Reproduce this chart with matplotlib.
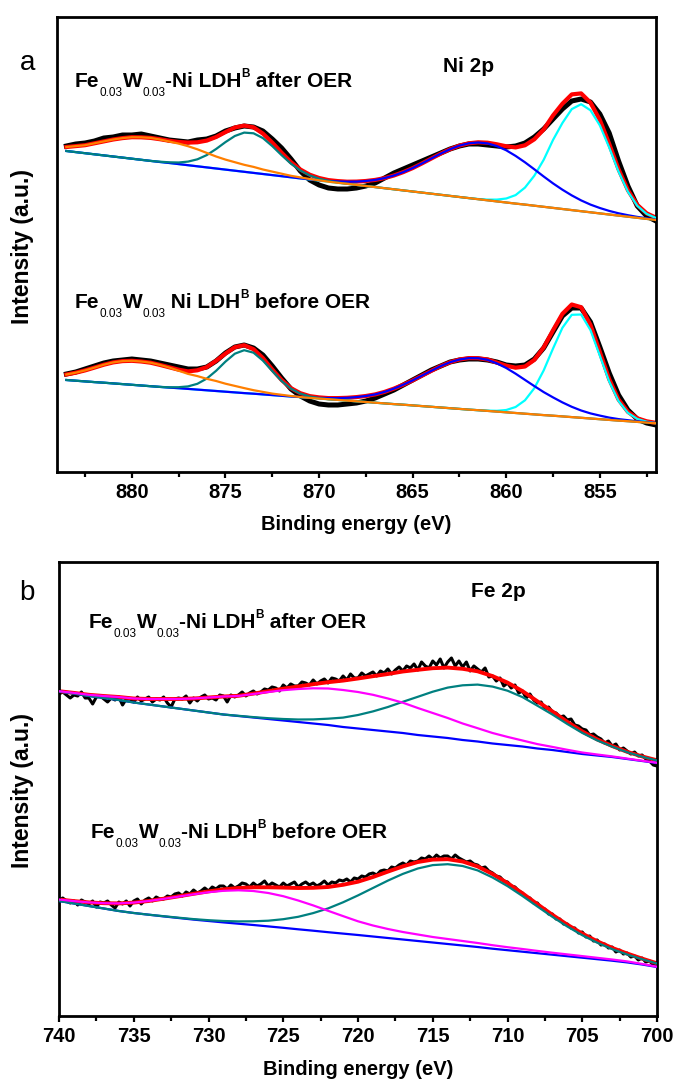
import numpy as np
import matplotlib
matplotlib.use("Agg")
import matplotlib.pyplot as plt
from matplotlib.ticker import MultipleLocator

plt.rcParams.update({
    "font.family": ["Liberation Sans", "DejaVu Sans"],
    "font.weight": "bold",
})

# ---------------- Ni 2p (binding energy 883.5 -> 852.0, 0.5 eV) ----------------
NI_E = np.arange(883.5, 851.75, -0.5)

NI_AFTER_BG = [320.0, 318.9, 317.8, 316.7, 315.6, 314.5, 313.4, 312.3, 311.2, 310.1,
               309.0, 308.0, 306.9, 305.8, 304.7, 303.6, 302.5, 301.4, 300.3, 299.2,
               298.1, 297.0, 295.9, 294.8, 293.7, 292.6, 291.5, 290.4, 289.3, 288.2,
               287.2, 286.1, 285.0, 283.9, 282.8, 281.7, 280.6, 279.5, 278.4, 277.3,
               276.2, 275.1, 274.0, 272.9, 271.8, 270.7, 269.6, 268.5, 267.4, 266.4,
               265.3, 264.2, 263.1, 262.0, 260.9, 259.8, 258.7, 257.6, 256.5, 255.4,
               254.3, 253.2, 252.1, 251.0]
NI_AFTER_SAT880 = [4, 6, 8, 11, 14, 17, 19.5, 21.5, 22.5, 23,
                   22.5, 21.5, 20.5, 19, 17, 14.5, 12, 10, 8.5, 7,
                   6, 4.5, 3.5, 2.5, 1.5, 1, 0.5, 0.3, 0, 0,
                   0, 0, 0, 0, 0, 0, 0, 0, 0, 0,
                   0, 0, 0, 0, 0, 0, 0, 0, 0, 0,
                   0, 0, 0, 0, 0, 0, 0, 0, 0, 0,
                   0, 0, 0, 0]
NI_AFTER_P874 = [0, 0, 0, 0, 0, 0, 0, 0, 0, 0,
                 0.3, 0.7, 1.6, 3.6, 7.0, 12.3, 19.5, 27.5, 34.7, 39.2,
                 39.6, 35.9, 29.0, 21.0, 13.6, 7.9, 4.1, 1.9, 0.8, 0.3,
                 0, 0, 0, 0, 0, 0, 0, 0, 0, 0,
                 0, 0, 0, 0, 0, 0, 0, 0, 0, 0,
                 0, 0, 0, 0, 0, 0, 0, 0, 0, 0,
                 0, 0, 0, 0]
NI_AFTER_SAT862 = [0, 0, 0, 0, 0, 0, 0, 0, 0, 0,
                   0, 0, 0, 0, 0, 0, 0, 0, 0, 0,
                   0, 0, 0, 0, 0, 0, 0.2, 0.4, 0.8, 1.4,
                   2.1, 3.3, 5.0, 7.2, 10.1, 13.8, 18.3, 23.4, 29.2, 35.2,
                   41.2, 46.7, 51.4, 54.8, 56.7, 56.9, 55.3, 52.2, 47.7, 42.3,
                   36.4, 30.3, 24.5, 19.3, 14.7, 10.8, 7.7, 5.4, 3.6, 2.3,
                   1.5, 0.9, 0.6, 0.3]
NI_AFTER_P856 = [0, 0, 0, 0, 0, 0, 0, 0, 0, 0,
                 0, 0, 0, 0, 0, 0, 0, 0, 0, 0,
                 0, 0, 0, 0, 0, 0, 0, 0, 0, 0,
                 0, 0, 0, 0, 0, 0, 0, 0, 0, 0,
                 0, 0, 0, 0, 0.2, 0.7, 1.8, 4.0, 8.5, 17,
                 30, 47, 68, 86, 101, 107, 102, 88, 67, 44,
                 25, 12, 5, 2]
NI_AFTER_DATA = [325, 327, 328, 330, 333, 334, 336, 336, 337, 335,
                 333, 331, 330, 329, 331, 332, 335, 340, 343, 345,
                 344, 340, 332, 323, 312, 300, 291, 286, 283, 282,
                 282, 283, 285, 288, 293, 298, 302, 306, 310, 314,
                 318, 322, 325, 327, 327, 326, 325, 324, 325, 328,
                 334, 342, 352, 362, 370, 372, 369, 357, 338, 310,
                 285, 265, 255, 250]

NI_BEFORE_BG = [91.0, 90.3, 89.6, 88.9, 88.3, 87.6, 86.9, 86.2, 85.5, 84.8,
                84.1, 83.4, 82.8, 82.1, 81.4, 80.7, 80.0, 79.3, 78.6, 77.9,
                77.3, 76.6, 75.9, 75.2, 74.5, 73.8, 73.1, 72.4, 71.8, 71.1,
                70.4, 69.7, 69.0, 68.3, 67.6, 66.9, 66.3, 65.6, 64.9, 64.2,
                63.5, 62.8, 62.1, 61.4, 60.8, 60.1, 59.4, 58.7, 58.0, 57.3,
                56.6, 55.9, 55.3, 54.6, 53.9, 53.2, 52.5, 51.8, 51.1, 50.4,
                49.8, 49.1, 48.4, 47.7]
NI_BEFORE_SAT880 = [5.5, 8, 11, 14.5, 18, 21, 23, 24, 24, 23.5,
                    22, 20, 17.5, 15, 13.5, 11.5, 10, 8, 6.5, 5,
                    3.5, 2.5, 1.5, 1, 0.5, 0.2, 0, 0, 0, 0,
                    0, 0, 0, 0, 0, 0, 0, 0, 0, 0,
                    0, 0, 0, 0, 0, 0, 0, 0, 0, 0,
                    0, 0, 0, 0, 0, 0, 0, 0, 0, 0,
                    0, 0, 0, 0]
NI_BEFORE_P874 = [0, 0, 0, 0, 0, 0, 0, 0, 0, 0,
                  0, 0.3, 1.0, 2.5, 5.8, 11.7, 20.2, 30.1, 38.7, 42.9,
                  41.0, 33.8, 24.1, 14.8, 7.8, 3.6, 1.4, 0.5, 0, 0,
                  0, 0, 0, 0, 0, 0, 0, 0, 0, 0,
                  0, 0, 0, 0, 0, 0, 0, 0, 0, 0,
                  0, 0, 0, 0, 0, 0, 0, 0, 0, 0,
                  0, 0, 0, 0]
NI_BEFORE_SAT862 = [0, 0, 0, 0, 0, 0, 0, 0, 0, 0,
                    0, 0, 0, 0, 0, 0, 0, 0, 0, 0,
                    0, 0, 0, 0, 0, 0.2, 0.4, 0.7, 1.1, 1.8,
                    2.8, 4.2, 6.0, 8.3, 11.5, 15.5, 20.0, 25.0, 30.5, 36.0,
                    41.4, 46.0, 49.4, 51.5, 52.0, 51.1, 48.2, 44.3, 39.3, 33.8,
                    28.3, 23.0, 18.3, 14.0, 10.3, 7.3, 5.1, 3.6, 2.3, 1.5,
                    1.0, 0.6, 0.4, 0.2]
NI_BEFORE_P856 = [0, 0, 0, 0, 0, 0, 0, 0, 0, 0,
                  0, 0, 0, 0, 0, 0, 0, 0, 0, 0,
                  0, 0, 0, 0, 0, 0, 0, 0, 0, 0,
                  0, 0, 0, 0, 0, 0, 0, 0, 0, 0,
                  0, 0, 0, 0, 0, 0.3, 0.8, 2.3, 6.0, 13.4,
                  26.2, 44.7, 67.2, 88.6, 102.3, 103.3, 88.4, 63.5, 38.4, 19.5,
                  8.3, 3.0, 0.9, 0.2]
NI_BEFORE_DATA = [97, 99, 102, 105, 108, 110, 111, 112, 111, 110,
                  108, 106, 104, 102, 102, 104, 110, 118, 124, 126,
                  123, 116, 105, 93, 82, 75, 70, 67, 66, 66,
                  67, 68, 70, 73, 77, 81, 86, 91, 96, 101,
                  105, 109, 111, 112, 112, 111, 109, 106, 105, 106,
                  112, 123, 139, 155, 163, 163, 149, 124, 98, 76,
                  61, 52, 48, 46]

# ---------------- Fe 2p (fit 740 -> 700 every 1 eV, raw every 0.25 eV) ----------------
FE_E = np.arange(740, 699.5, -1.0)
FE_E_RAW = np.arange(740, 699.9, -0.25)

FE_AFTER_BG = [325.5, 323.5, 321, 319, 317, 314.5, 312.5, 310.5, 308.5, 306.5,
               304.5, 302.5, 301, 299.5, 298, 296.5, 295, 293.5, 292, 290,
               288.5, 287, 285.5, 284, 282, 280.5, 279, 277, 275.5, 273.5,
               272, 270.5, 268.5, 267, 265, 263, 261.5, 260, 258, 256, 254]
FE_AFTER_P725 = [0.3, 0.6, 1.2, 2, 3, 4, 5.5, 7.5, 9.5, 12,
                 15, 18, 20, 23.5, 27, 30.3, 33, 35.2, 36.5, 37,
                 36.5, 35.2, 33, 30.3, 27, 23.5, 20, 16.5, 13.3, 10.5,
                 8.1, 6.0, 4.4, 3.1, 2.2, 1.5, 1.0, 0.6, 0.4, 0.3, 0.2]
FE_AFTER_P712 = [0, 0, 0, 0, 0, 0, 0, 0, 0, 0,
                 0, 0, 0.2, 0.4, 0.8, 1.5, 2.5, 4.1, 6.3, 9.4,
                 13.5, 18.6, 24.5, 31.2, 38.2, 44.8, 50.4, 54.7, 56.9, 56.9,
                 54.3, 49.4, 42.8, 35.5, 28.0, 21.1, 15.1, 10.4, 6.8, 4.3, 2.5]
FE_AFTER_RAW = [323, 325, 322, 319, 322, 321, 325, 319, 319, 313, 320, 321,
                318, 315, 319, 317, 320, 312, 318, 318, 315, 320, 316, 318,
                320, 315, 318, 317, 320, 314, 310, 318, 319, 318, 321, 314,
                319, 316, 320, 322, 318, 319, 317, 322, 321, 315, 322, 320,
                322, 325, 321, 324, 326, 323, 325, 328, 327, 330, 329, 326,
                332, 329, 333, 331, 331, 335, 334, 332, 337, 333, 336, 338,
                334, 339, 338, 336, 341, 337, 343, 339, 339, 344, 341, 343,
                345, 341, 346, 344, 348, 343, 347, 350, 346, 351, 349, 353,
                347, 355, 351, 349, 356, 352, 358, 349, 355, 359, 351, 356,
                350, 355, 346, 351, 348, 345, 349, 340, 341, 336, 339, 331,
                334, 329, 332, 324, 326, 319, 323, 317, 314, 315, 308, 310,
                305, 304, 300, 301, 297, 298, 292, 291, 288, 287, 282, 283,
                280, 278, 274, 276, 271, 273, 267, 269, 266, 263, 265, 261,
                262, 258, 256, 252, 251]

FE_BEFORE_BG = [116, 113.5, 111, 108.5, 106, 104, 102.3, 100.6, 99, 97.4,
                96, 94.6, 93.3, 92, 90.6, 89.2, 87.7, 86.3, 84.8, 83.4,
                82, 80.5, 79, 77.5, 76, 74.5, 73, 71.5, 70, 68.3,
                66.8, 65.3, 63.8, 62.3, 60.8, 59.3, 57.8, 56.3, 54.6, 52.5, 50]
FE_BEFORE_P727 = [1.5, 2.4, 3.6, 5.3, 7.6, 10.4, 13.7, 17.5, 21.4, 25.3,
                  28.8, 31.6, 33.4, 34, 33.4, 31.6, 28.8, 25.3, 21.4, 17.5,
                  13.7, 11, 9, 7.5, 6.5, 5.5, 5, 4.5, 4, 3.5,
                  3, 2.7, 2.3, 2, 1.8, 1.6, 1.4, 1.2, 1, 0.6, 0.3]
FE_BEFORE_P714 = [0, 0, 0, 0, 0, 0, 0, 0.2, 0.3, 0.5,
                  0.8, 1.4, 2.3, 3.7, 5.7, 8.6, 12.5, 17.6, 23.8, 31.3,
                  39.6, 48.5, 57.4, 65.6, 72.5, 77.4, 79.8, 79.5, 76.6, 71.2,
                  64.1, 55.7, 46.7, 37.9, 29.7, 22.5, 16.5, 11.6, 7.9, 5.3, 3.4]
FE_BEFORE_RAW = [117, 119, 116, 114, 116, 112, 117, 115, 113, 116, 110, 115,
                 114, 116, 112, 109, 115, 113, 116, 111, 116, 118, 113, 117,
                 119, 116, 120, 118, 118, 121, 120, 123, 124, 121, 125, 123,
                 127, 124, 126, 129, 126, 130, 128, 131, 131, 128, 132, 129,
                 131, 134, 133, 130, 134, 131, 133, 136, 131, 134, 132, 130,
                 134, 131, 133, 135, 130, 133, 135, 132, 134, 131, 133, 136,
                 132, 135, 134, 137, 136, 138, 135, 139, 138, 141, 140, 143,
                 144, 142, 146, 147, 146, 150, 149, 152, 154, 152, 156, 155,
                 156, 159, 158, 161, 158, 162, 159, 161, 161, 158, 162, 159,
                 157, 155, 156, 153, 152, 149, 150, 146, 144, 141, 140, 136,
                 135, 131, 130, 126, 124, 120, 119, 114, 114, 109, 108, 103,
                 103, 98, 98, 93, 93, 89, 89, 84, 85, 80, 81, 76,
                 77, 72, 73, 69, 70, 65, 67, 63, 64, 60, 61, 57,
                 59, 55, 56, 52, 51]

NI_TICKS = [880, 875, 870, 865, 860, 855]
FE_TICKS = [740, 735, 730, 725, 720, 715, 710, 705, 700]

ORANGE = "#ff7f00"
TEAL = "#008080"
BLUE = "#0000ff"
CYAN = "#00ffff"
MAGENTA = "#ff00ff"

W, H = 678, 1084
fig = plt.figure(figsize=(W / 100, H / 100), dpi=100)
renderer = fig.canvas.get_renderer()


def fx(x):
    return x / W


def fy(y):
    return 1 - y / H


ax1 = fig.add_axes([fx(57), fy(471.5), (656 - 57) / W, (471.5 - 17) / H])
ax2 = fig.add_axes([fx(59), fy(1016), (657 - 59) / W, (1016 - 562) / H])


def draw_ni(ax, bg, sat880, p874, sat862, p856, raw):
    bg = np.array(bg)
    sat880, p874 = np.array(sat880), np.array(p874)
    sat862, p856 = np.array(sat862), np.array(p856)
    fit = bg + sat880 + p874 + sat862 + p856
    ax.plot(NI_E, raw, color="black", lw=3.6, zorder=1, solid_joinstyle="round")
    ax.plot(NI_E, fit, color="red", lw=3.0, zorder=2)
    ax.plot(NI_E, bg + p856, color=CYAN, lw=1.6, zorder=3)
    ax.plot(NI_E, bg + sat862, color=BLUE, lw=1.6, zorder=4)
    ax.plot(NI_E, bg + p874, color=TEAL, lw=1.6, zorder=5)
    ax.plot(NI_E, bg + sat880, color=ORANGE, lw=1.6, zorder=6)


def draw_fe(ax, bg, p_hi, p_lo, raw):
    bg = np.array(bg)
    p_hi, p_lo = np.array(p_hi), np.array(p_lo)
    fit = bg + p_hi + p_lo
    ax.plot(FE_E_RAW, raw, color="black", lw=2.2, zorder=1)
    ax.plot(FE_E, fit, color="red", lw=2.8, zorder=2)
    ax.plot(FE_E, bg, color=BLUE, lw=1.6, zorder=3)
    ax.plot(FE_E, bg + p_lo, color=TEAL, lw=1.6, zorder=4)
    ax.plot(FE_E, bg + p_hi, color=MAGENTA, lw=1.6, zorder=5)


draw_ni(ax1, NI_AFTER_BG, NI_AFTER_SAT880, NI_AFTER_P874, NI_AFTER_SAT862,
        NI_AFTER_P856, NI_AFTER_DATA)
draw_ni(ax1, NI_BEFORE_BG, NI_BEFORE_SAT880, NI_BEFORE_P874, NI_BEFORE_SAT862,
        NI_BEFORE_P856, NI_BEFORE_DATA)
draw_fe(ax2, FE_AFTER_BG, FE_AFTER_P725, FE_AFTER_P712, FE_AFTER_RAW)
draw_fe(ax2, FE_BEFORE_BG, FE_BEFORE_P727, FE_BEFORE_P714, FE_BEFORE_RAW)

ax1.set_xlim(884, 852)
ax1.set_ylim(-0.5, 454)
ax2.set_xlim(740, 700)
ax2.set_ylim(1, 455)

for ax, ticks in ((ax1, NI_TICKS), (ax2, FE_TICKS)):
    ax.set_xticks(ticks)
    ax.xaxis.set_minor_locator(MultipleLocator(2.5))
    ax.set_yticks([])
    ax.tick_params(axis="x", which="major", direction="out", length=4, width=1.6,
                   labelsize=14.5, pad=4)
    ax.tick_params(axis="x", which="minor", direction="out", length=3.5, width=1.6)
    for lab in ax.get_xticklabels():
        lab.set_fontweight("bold")
    for sp in ax.spines.values():
        sp.set_linewidth(2.0)
    ax.set_xlabel("Binding energy (eV)", fontsize=14.5, fontweight="bold", labelpad=10)

fig.text(fx(23), fy(246), "Intensity (a.u.)", rotation=90, ha="center", va="center",
         fontsize=16.5, fontweight="bold")
fig.text(fx(23), fy(790), "Intensity (a.u.)", rotation=90, ha="center", va="center",
         fontsize=16.5, fontweight="bold")

fig.text(fx(19.5), fy(70), "a", fontsize=20, fontweight="normal", va="baseline")
fig.text(fx(19.5), fy(600), "b", fontsize=20, fontweight="normal", va="baseline")

fig.text(fx(443), fy(72), "Ni 2p", fontsize=15, fontweight="bold", va="baseline")
fig.text(fx(471), fy(597), "Fe 2p", fontsize=15, fontweight="bold", va="baseline")


def sample_label(x, y, joiner, state):
    # pieces: (text, size, weight, vertical shift in px, downward positive)
    parts = [("Fe", 15, "bold", 0), ("0.03", 8.5, "normal", 9),
             ("W", 15, "bold", 0), ("0.03", 8.5, "normal", 9),
             (joiner + "Ni LDH", 15, "bold", 0), ("B", 8.5, "bold", -10),
             (" " + state + " OER", 15, "bold", 0)]
    cur = x
    for s, size, weight, dy in parts:
        t = fig.text(fx(cur), fy(y + dy), s, fontsize=size, fontweight=weight,
                     ha="left", va="baseline")
        cur += t.get_window_extent(renderer).width


sample_label(75, 87, "-", "after")
sample_label(75, 308, " ", "before")
sample_label(89, 628, "-", "after")
sample_label(91, 838, "-", "before")

fig.savefig("out.png", dpi=100)
